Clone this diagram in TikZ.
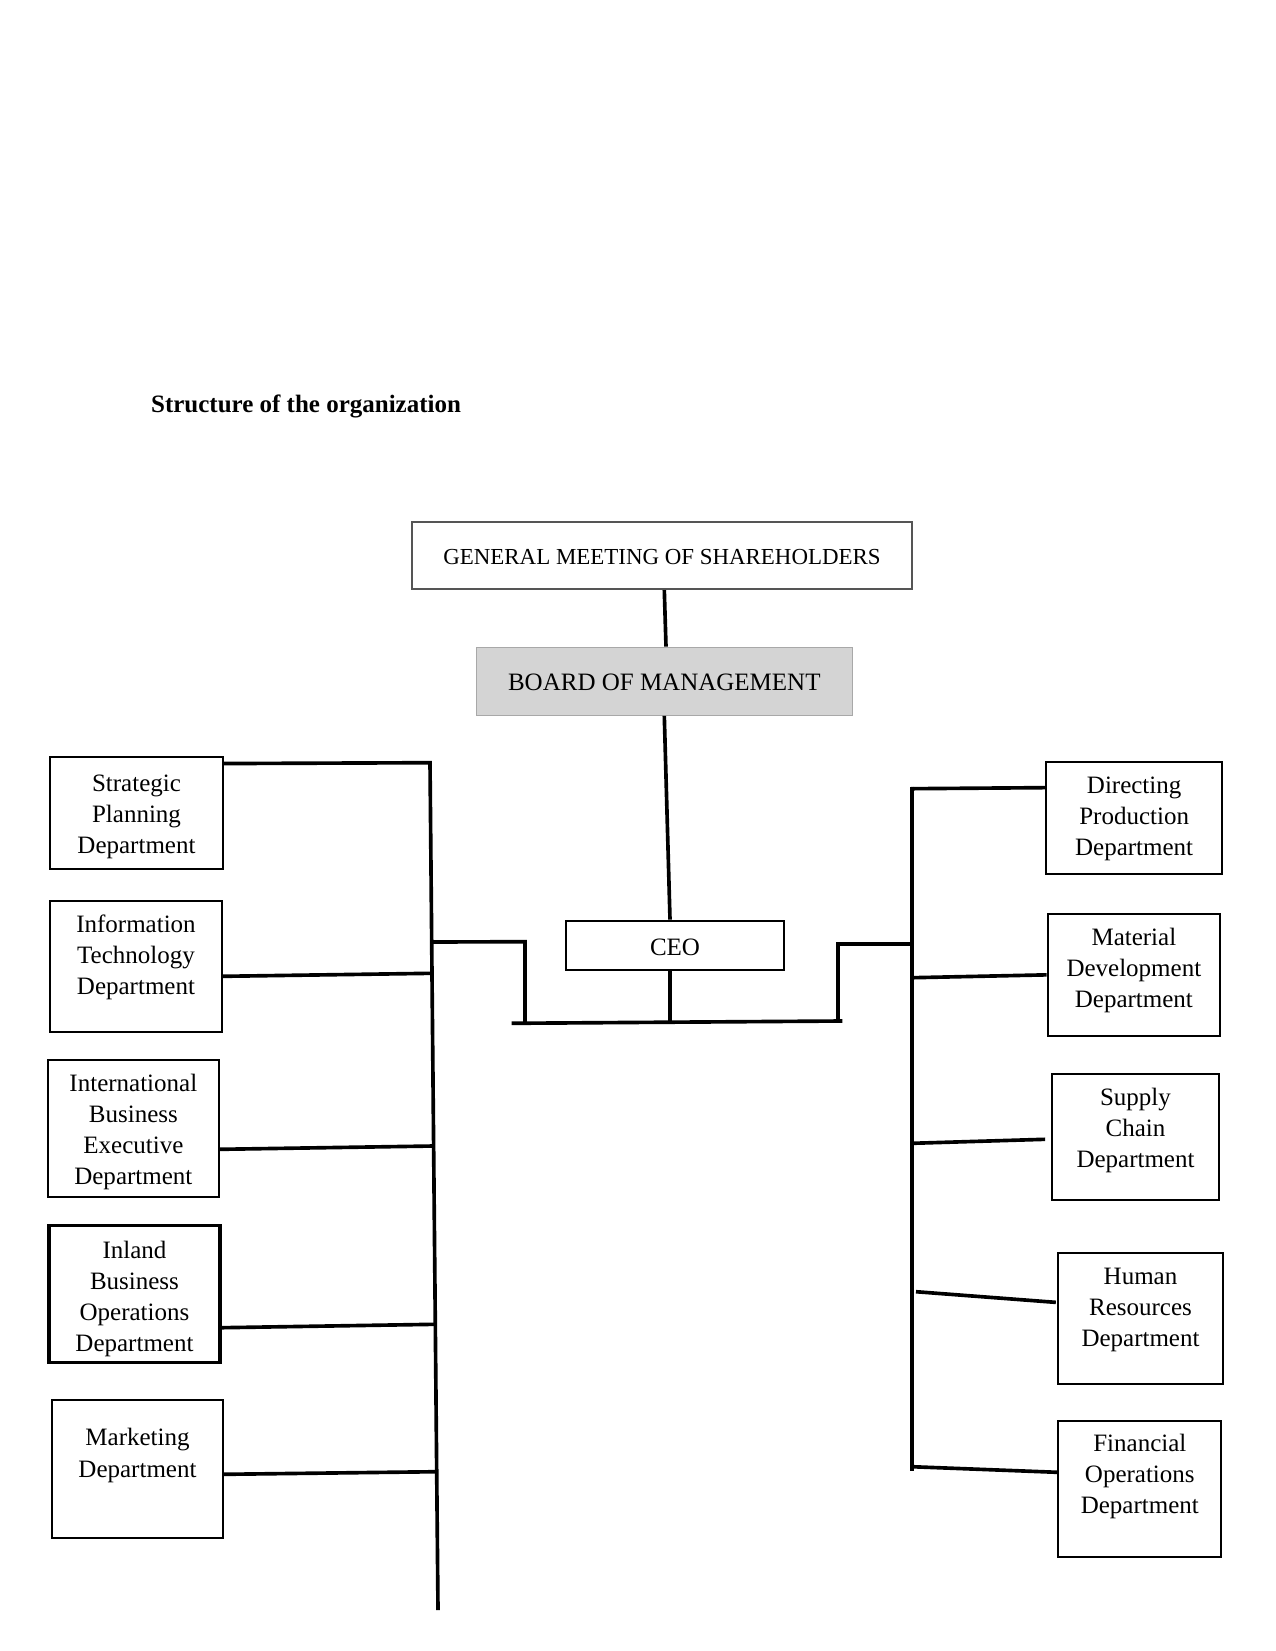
\documentclass[tikz,border=0pt]{standalone}
\usepackage{fontspec}
\setmainfont{Liberation Serif}
\usetikzlibrary{calc}
\newdimen\pxu \pxu=0.48pt
\newcommand\dtext[4]{\parbox[c][#2\pxu][t]{#1\pxu}{\centering\fontsize{12}{14.9}\selectfont\vspace*{#3\pxu}\strut #4\par}}
\newcommand\lowr[2]{\raisebox{-#1\pxu}[\height][\depth]{#2}}
\definecolor{gmborder}{HTML}{555555}
\definecolor{bomfill}{HTML}{D4D4D4}
\definecolor{bomborder}{HTML}{A8A8A8}
\tikzset{
  dept/.style={draw, line width=0.85pt, inner sep=0pt, rectangle},
  conn/.style={line width=1.75pt},
}
\begin{document}
\begin{tikzpicture}[x=0.48pt, y=-0.48pt]
\useasboundingbox[fill=white] (0,0) rectangle (1275,1651);

% title
\node[anchor=base west, inner sep=0pt, font=\fontsize{12}{14.4}\selectfont\bfseries] (title) at (150.7,412.7) {Structure of the organization};

% top chain
\node[draw=gmborder, line width=1pt, minimum width=500.6*0.48pt, minimum height=67.3*0.48pt, inner sep=0pt, font=\fontsize{11}{13}\selectfont] (gm) at (662,555.35) {\lowr{1.2}{GENERAL MEETING OF SHAREHOLDERS}};
\node[draw=bomborder, fill=bomfill, line width=0.6pt, minimum width=376*0.48pt, minimum height=68*0.48pt, inner sep=0pt, font=\fontsize{12}{14.4}\selectfont] (bom) at (664.3,681.3) {\lowr{1.2}{BOARD OF MANAGEMENT}};
\node[draw, line width=1.3pt, minimum width=218*0.48pt, minimum height=49*0.48pt, inner sep=0pt, font=\fontsize{12}{14.4}\selectfont] (ceo) at (675,945.5) {\lowr{2}{CEO}};

% left departments
\node[dept, line width=1.1pt] (sp) at (136.5,812.7) {\dtext{173}{112}{13.3}{Strategic\\Planning\\Department}};
\node[dept, line width=1.1pt] (it) at (136,966.5) {\dtext{172}{131}{9.3}{Information\\Technology\\Department}};
\node[dept, line width=1.1pt] (ib) at (133.35,1128.3) {\dtext{171.3}{136.7}{9.6}{International\\Business\\Executive\\Department}};
\node[dept, line width=1.5pt] (inl) at (134.5,1293.9) {\dtext{171}{137.7}{11.3}{Inland\\Business\\Operations\\Department}};
\node[dept] (mk) at (137.5,1468.8) {\dtext{171.6}{137.7}{24.3}{Marketing\\Department}};

% right departments
\node[dept, line width=1.1pt] (dp) at (1134.15,818.15) {\dtext{176.3}{111.7}{9.3}{Directing\\Production\\Department}};
\node[dept, line width=1.1pt] (md) at (1133.85,974.85) {\dtext{172.3}{121.7}{10}{Material\\Development\\Department}};
\node[dept] (sc) at (1135.5,1136.85) {\dtext{167.6}{126.3}{10.3}{Supply\\Chain\\Department}};
\node[dept] (hr) at (1140.5,1318.35) {\dtext{165.6}{131.3}{9.6}{Human\\Resources\\Department}};
\node[dept] (fo) at (1139.8,1488.7) {\dtext{163}{136}{9.3}{Financial\\Operations\\Department}};

% coordinates
\coordinate (ltop) at (430,762.7);
\coordinate (lbot) at (438,1610);
\coordinate (jit) at (432,973.3);
\coordinate (jib) at (433.6,1146);
\coordinate (jinl) at (435.3,1324.3);
\coordinate (jmk) at (436.7,1471.7);
\coordinate (jlc) at (431.7,942);
\coordinate (lc1) at (525,941.7);
\coordinate (lc2) at (525,1023.2);
\coordinate (barL) at (511.7,1023.3);
\coordinate (barR) at (842.3,1021);
\coordinate (rc1) at (838.3,1021);
\coordinate (rc2) at (838.3,944);
\coordinate (jrc) at (914.3,944);
\coordinate (jceo) at (670,1022);
\coordinate (rtop) at (911.7,786.7);
\coordinate (rbot) at (911.7,1471);
\coordinate (jdp) at (910.8,788.7);
\coordinate (jmd) at (912.7,977.7);
\coordinate (jsc) at (912,1143.3);
\coordinate (jhr) at (916,1291.7);
\coordinate (jfo) at (912,1466.7);

% top connectors
\draw[conn] ($(gm.south)+(2.3,0)$) -- ($(bom.north)+(1.7,0)$);
\draw[conn] (bom.south) -- ($(ceo.north)+(-5,0)$);
\draw[conn] ($(ceo.south)+(-5,0)$) -- (jceo);

% ceo bar
\draw[conn] (barL) -- (barR);
\draw[conn] (jlc) -- (lc1) -- (lc2);
\draw[conn] (rc1) -- (rc2) -- (jrc);

% left trunk and branches
\draw[conn] ($(sp.north east)+(0,8)$) -- (ltop) -- (lbot);
\draw[conn] ($(it.east)+(0,9.8)$) -- (jit);
\draw[conn] ($(ib.east)+(0,21)$) -- (jib);
\draw[conn] ($(inl.east)+(0,33.8)$) -- (jinl);
\draw[conn] ($(mk.east)+(0,5.5)$) -- (jmk);

% right trunk and branches
\draw[conn] (rtop) -- (rbot);
\draw[conn] ($(dp.west)+(0,-30.5)$) -- (jdp);
\draw[conn] (md.west) -- (jmd);
\draw[conn] ($(sc.west)+(-5.7,2.45)$) -- (jsc);
\draw[conn] ($(hr.west)+(-1,-16)$) -- (jhr);
\draw[conn] ($(fo.west)+(0,-16.4)$) -- (jfo);
\end{tikzpicture}
\end{document}
